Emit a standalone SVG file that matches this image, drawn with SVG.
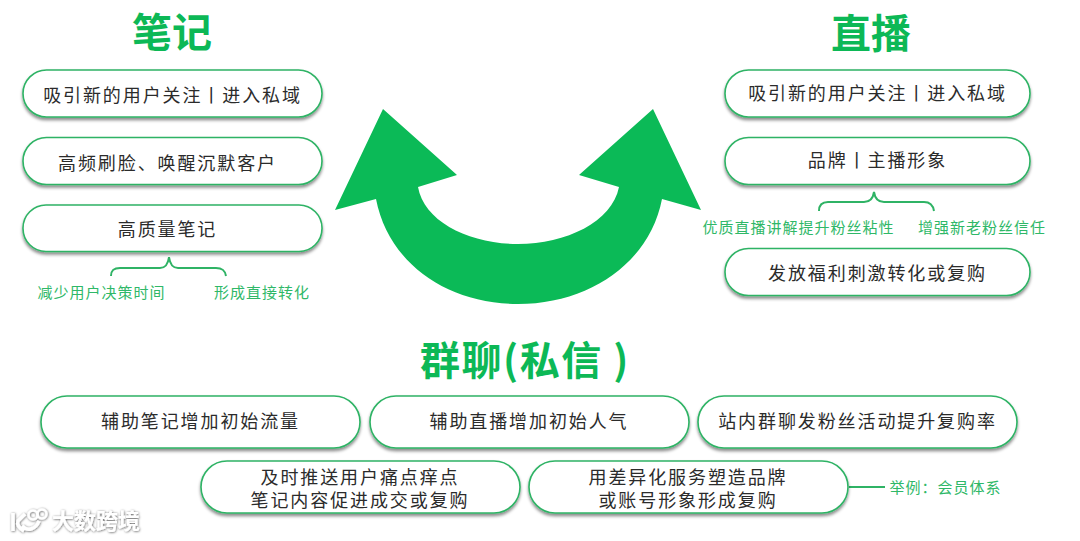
<svg xmlns="http://www.w3.org/2000/svg" width="1080" height="541" viewBox="0 0 1080 541">
<defs>
<filter id="sh" x="-5%" y="-20%" width="110%" height="150%"><feDropShadow dx="0" dy="2.5" stdDeviation="1.6" flood-color="#000" flood-opacity="0.45"/></filter>
<filter id="wm" x="-10%" y="-20%" width="120%" height="150%"><feDropShadow dx="0.5" dy="0.5" stdDeviation="1.3" flood-color="#000" flood-opacity="0.65"/></filter>
</defs>
<style>
text{font-family:"Noto Sans CJK SC","Liberation Sans",sans-serif;text-anchor:middle}
.pill{fill:#fff;stroke:#2fb365;stroke-width:1.6;filter:url(#sh)}
.t{font-size:18px;fill:#2b2b2b;letter-spacing:1.9px}
.h{font-size:40px;fill:#0cb856;font-weight:700}
.g{font-size:15px;fill:#2fb868;letter-spacing:1px}
.c{fill:none;stroke:#2fb365;stroke-width:2}
</style>
<rect width="1080" height="541" fill="#fff"/>
<g id="arrow"><path fill="#0bba57" d="M383 109L457 175L418 187C424 222 470 244 518 244C566 244 612 222 619 187L579 175L653 109L701 210L662 199C650 262 590 304 518 304C446 304 388 262 376 199L335 210Z"/></g>
<g id="title-notes"><text class="h" x="172" y="47">笔记</text></g>
<g id="title-live"><text class="h" x="871" y="48">直播</text></g>
<g id="title-chat"><text class="h" x="525" y="375" letter-spacing="1.5">群聊(私信 )</text></g>
<g id="connectors">
<path class="c" d="M111 276C111 270 114 268 120 268H160C165 268 168 265 169 257C170 265 173 268 178 268H216C222 268 225 270 226 276"/>
<path class="c" d="M819 211C819 205 822 202 828 202H864C869 202 873 199 874 192C875 199 879 202 884 202H924C930 202 933 205 934 211"/>
<path class="c" d="M849 487H885"/>
</g>
<g id="n1"><rect class="pill" x="23" y="70" width="299" height="47" rx="23.5"/><text class="t" x="172.500" y="102">吸引新的用户关注丨进入私域</text></g>
<g id="n2"><rect class="pill" x="23" y="137.500" width="299" height="47" rx="23.5"/><text class="t" x="167.500" y="170">高频刷脸、唤醒沉默客户</text></g>
<g id="n3"><rect class="pill" x="23" y="205" width="299" height="46.500" rx="23"/><text class="t" x="167.500" y="236">高质量笔记</text></g>
<g id="l1"><text class="g" x="101.500" y="298">减少用户决策时间</text></g>
<g id="l2"><text class="g" x="262" y="298">形成直接转化</text></g>
<g id="n4"><rect class="pill" x="725" y="70" width="305" height="47" rx="23.5"/><text class="t" x="877.500" y="100">吸引新的用户关注丨进入私域</text></g>
<g id="n5"><rect class="pill" x="725" y="137.500" width="305" height="47" rx="23.5"/><text class="t" x="877.500" y="167">品牌丨主播形象</text></g>
<g id="l3"><text class="g" x="798.500" y="233">优质直播讲解提升粉丝粘性</text></g>
<g id="l4"><text class="g" x="982" y="233">增强新老粉丝信任</text></g>
<g id="n6"><rect class="pill" x="725" y="248.500" width="305" height="47" rx="23.5"/><text class="t" x="877.500" y="280">发放福利刺激转化或复购</text></g>
<g id="n7"><rect class="pill" x="41" y="396" width="319" height="52" rx="26"/><text class="t" x="200.500" y="428">辅助笔记增加初始流量</text></g>
<g id="n8"><rect class="pill" x="370" y="396" width="319" height="52" rx="26"/><text class="t" x="529" y="428">辅助直播增加初始人气</text></g>
<g id="n9"><rect class="pill" x="698" y="396" width="319" height="52" rx="26"/><text class="t" x="857.500" y="428">站内群聊发粉丝活动提升复购率</text></g>
<g id="n10"><rect class="pill" x="201" y="461" width="319" height="52" rx="26"/><text class="t" x="360" y="484">及时推送用户痛点痒点</text><text class="t" x="360" y="507">笔记内容促进成交或复购</text></g>
<g id="n11"><rect class="pill" x="529" y="461" width="319" height="52" rx="26"/><text class="t" x="688" y="484">用差异化服务塑造品牌</text><text class="t" x="688" y="507">或账号形象形成复购</text></g>
<g id="l5"><text class="g" x="945.500" y="493">举例：会员体系</text></g>
<g id="watermark" filter="url(#wm)">
<path d="M13 513V531M25 514L18 521C17 524 19 528 24 531M22 526C28 532 36 529 39 521" fill="none" stroke="#fff" stroke-width="3.500"/>
<circle cx="33" cy="515" r="4.500" fill="none" stroke="#fff" stroke-width="2.500"/>
<circle cx="42" cy="514" r="4.500" fill="none" stroke="#fff" stroke-width="2.500"/>
<text x="96" y="529" font-size="22" fill="#fff" font-weight="700">大数跨境</text>
</g>
</svg>
